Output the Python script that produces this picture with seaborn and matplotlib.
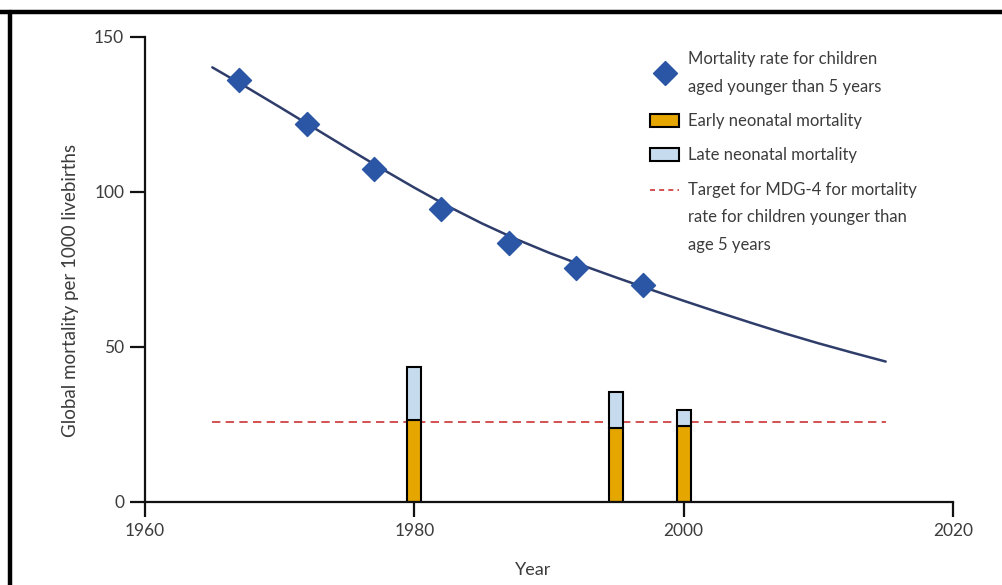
import numpy as np
import pandas as pd
import matplotlib.pyplot as plt
import matplotlib.lines as mlines
import matplotlib.patches as mpatches
import seaborn as sns

# under-5 mortality estimates (diamonds)
u5_years = [1967, 1972, 1977, 1982, 1987, 1992, 1997]
u5_rate = [136, 122, 107.5, 94.5, 83.5, 75.5, 70]

# fitted trend curve
trend_years = [1965, 1967.5, 1970, 1972.5, 1975, 1977.5, 1980, 1982.5, 1985, 1987.5,
               1990, 1992.5, 1995, 1997.5, 2000, 2002.5, 2005, 2007.5, 2010, 2012.5, 2015]
trend_rate = [140.2, 133.9, 127.4, 120.8, 114.2, 107.7, 101.4, 95.4, 89.9, 84.9,
              80.4, 76.3, 72.4, 68.6, 64.9, 61.3, 57.8, 54.4, 51.2, 48.2, 45.3]

# neonatal mortality bars
bar_years = [1980, 1995, 2000]
early_neonatal = [26.5, 24, 24.5]
total_neonatal = [43.5, 35.5, 29.8]

# MDG-4 target
target_years = [1965, 2015]
target_rate = [25.8, 25.8]

u5 = pd.DataFrame({'year': u5_years, 'rate': u5_rate})
trend = pd.DataFrame({'year': trend_years, 'rate': trend_rate})
bars = pd.DataFrame({'year': bar_years, 'early': early_neonatal, 'total': total_neonatal})
bars['late'] = bars['total'] - bars['early']

sns.set_theme(style='ticks')
plt.rcParams['font.family'] = ['Lato', 'DejaVu Sans']
text_col = '#3c3c3c'

fig = plt.figure(figsize=(10.02, 5.85), dpi=100)
ax = fig.add_axes([0.1447, 0.1419, 0.8064, 0.7949])

blue = '#2a56a5'
navy = '#2f3d6b'
gold = '#e5a600'
light = '#c6dcee'
red = '#cc3333'

ax.plot(target_years, target_rate, color=red, lw=1.2, dashes=(5, 3.2), zorder=1)
ax.bar(bars['year'], bars['early'], width=1.05, color=gold, edgecolor='black', lw=1.5, zorder=2)
ax.bar(bars['year'], bars['late'], bottom=bars['early'], width=1.05, color=light,
       edgecolor='black', lw=1.5, zorder=2)
sns.lineplot(data=trend, x='year', y='rate', color=navy, lw=1.8, ax=ax, zorder=3)
sns.scatterplot(data=u5, x='year', y='rate', marker='D', s=150, color=blue,
                edgecolor=blue, ax=ax, zorder=4)

ax.set_xlim(1960, 2020)
ax.set_ylim(0, 150)
ax.set_xticks([1960, 1980, 2000, 2020])
ax.set_yticks([0, 50, 100, 150])
sns.despine(ax=ax)
for s in ['left', 'bottom']:
    ax.spines[s].set_linewidth(1.6)
    ax.spines[s].set_color('#111111')
ax.tick_params(axis='both', direction='out', length=11, width=1.6, color='#111111',
               labelsize=12.5, labelcolor=text_col, pad=4)
ax.set_xlabel('Year', fontsize=13, color=text_col)
ax.xaxis.set_label_coords(0.48, -0.128)
ax.set_ylabel('Global mortality per 1000 livebirths', fontsize=13.5, color=text_col)
ax.yaxis.set_label_coords(-0.082, 0.456)

handles = [
    mlines.Line2D([], [], marker='D', ls='none', color=blue, markersize=12),
    mpatches.Patch(facecolor=gold, edgecolor='black', lw=1.5),
    mpatches.Patch(facecolor=light, edgecolor='black', lw=1.5),
    mlines.Line2D([], [], color=red, lw=1.2, dashes=(3, 2.5)),
]
labels = [
    'Mortality rate for children\naged younger than 5 years',
    'Early neonatal mortality',
    'Late neonatal mortality',
    'Target for MDG-4 for mortality\nrate for children younger than\nage 5 years',
]
leg = ax.legend(handles, labels, loc='upper left', bbox_to_anchor=(0.625, 0.97),
                frameon=False, fontsize=12, borderpad=0, borderaxespad=0,
                handlelength=1.75, handleheight=0.8, handletextpad=0.55,
                labelspacing=1.1)
for t in leg.get_texts():
    t.set_color(text_col)
    t.set_linespacing(1.9)
# put the dashed handle next to the first line of its label
dash_handle = leg.legend_handles[3]
dash_handle.set_ydata(np.asarray(dash_handle.get_ydata()) + 20.2)

# frame around the figure (top and left edges visible in the original)
fig.add_artist(mlines.Line2D([0.0, 1.0], [0.9795, 0.9795], color='black', lw=3.2,
                             transform=fig.transFigure))
fig.add_artist(mlines.Line2D([0.0098, 0.0098], [0.0, 0.98], color='black', lw=3.2,
                             transform=fig.transFigure))

fig.savefig('out.png', dpi=100)
